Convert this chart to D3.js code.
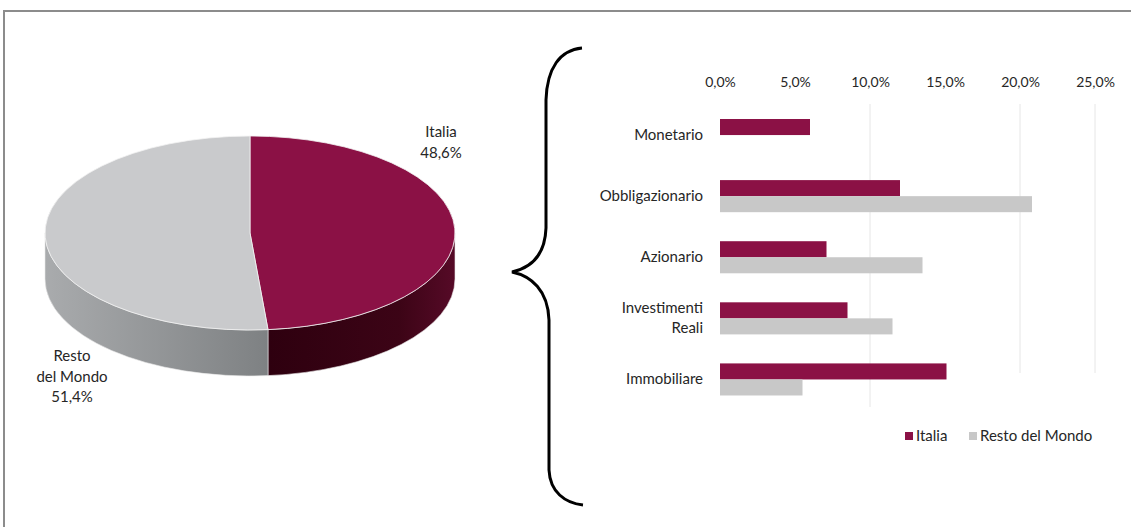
<!DOCTYPE html>
<html>
<head>
<meta charset="utf-8">
<script src="https://cdn.jsdelivr.net/npm/d3@7"></script>
<style>
  body { margin: 0; background: #fff; }
  svg { display: block; }
  text { font-family: Lato, "Open Sans", sans-serif; fill: #262626; }
</style>
</head>
<body>
<svg id="chart" width="1131" height="527"></svg>
<script>
// pie data
const pieLabels = ["Italia", "Resto del Mondo"];
const pieValues = [48.6, 51.4];

// bar data (% values)
const categories = ["Monetario", "Obbligazionario", "Azionario", "Investimenti Reali", "Immobiliare"];
const italiaValues = [6.0, 12.0, 7.1, 8.5, 15.1];
const restoValues = [0, 20.8, 13.5, 11.5, 5.5];
const seriesNames = ["Italia", "Resto del Mondo"];
const xTicks = [0, 5, 10, 15, 20, 25];
const gridTicks = [10, 20, 25];

const colors = { italia: "#8b1145", resto: "#c8c8c8" };

const svg = d3.select("#chart");
const defs = svg.append("defs");

// frame
svg.append("path")
    .attr("d", "M4,527 L4,11 L1131,11")
    .attr("fill", "none")
    .attr("stroke", "#8c8c8c")
    .attr("stroke-width", 2);

// ---------- 3D pie ----------
const cx = 250, cy = 233, rx = 205, ry = 97, depth = 46;
const pt = (a, dy = 0) => [cx + rx * Math.sin(a), cy - ry * Math.cos(a) + dy];

const sideGrad = [
    { id: "sideItalia", stops: [["0%", "#2e000f"], ["70%", "#3c0416"], ["100%", "#560a27"]], x1: 268, x2: 455 },
    { id: "sideResto", stops: [["0%", "#a9abad"], ["100%", "#7e8183"]], x1: 45, x2: 268 }
];
sideGrad.forEach(g => {
    const lg = defs.append("linearGradient").attr("id", g.id)
        .attr("gradientUnits", "userSpaceOnUse")
        .attr("x1", g.x1).attr("x2", g.x2).attr("y1", 0).attr("y2", 0);
    g.stops.forEach(s => lg.append("stop").attr("offset", s[0]).attr("stop-color", s[1]));
});

const arcs = d3.pie().sort(null).value(d => d)(pieValues);
const topFill = ["#8b1145", "#c9cacc"];
const sideFill = ["url(#sideItalia)", "url(#sideResto)"];

const pieG = svg.append("g");
arcs.forEach((d, i) => {
    const s = Math.max(d.startAngle, Math.PI / 2);
    const e = Math.min(d.endAngle, 3 * Math.PI / 2);
    if (s < e) {
        pieG.append("path")
            .attr("d", `M${pt(s)}A${rx},${ry} 0 0 1 ${pt(e)}L${pt(e, depth)}A${rx},${ry} 0 0 0 ${pt(s, depth)}Z`)
            .attr("fill", sideFill[i])
            .attr("stroke", "#e8e8e8")
            .attr("stroke-width", 0.6);
    }
});
arcs.forEach((d, i) => {
    const large = d.endAngle - d.startAngle > Math.PI ? 1 : 0;
    pieG.append("path")
        .attr("d", `M${cx},${cy}L${pt(d.startAngle)}A${rx},${ry} 0 ${large} 1 ${pt(d.endAngle)}Z`)
        .attr("fill", topFill[i])
        .attr("stroke", "#f2f2f2")
        .attr("stroke-width", 0.8);
});

// pie labels
const pieLabelPos = [[441, 132], [72, 356]];
const pieLabelLines = [
    ["Italia", pieValues[0].toFixed(1).replace(".", ",") + "%"],
    ["Resto", "del Mondo", pieValues[1].toFixed(1).replace(".", ",") + "%"]
];
pieLabelLines.forEach((lines, i) => {
    const t = svg.append("text")
        .attr("x", pieLabelPos[i][0]).attr("y", pieLabelPos[i][1])
        .attr("text-anchor", "middle")
        .style("font-size", "15px");
    lines.forEach((l, j) => t.append("tspan")
        .attr("x", pieLabelPos[i][0])
        .attr("y", pieLabelPos[i][1] + j * 20.5)
        .attr("dy", "0.35em")
        .text(l));
});

// brace
svg.append("path")
    .attr("d", "M582,48 C560,50 547,68 546,100 L546,228 C545,256 530,268 512,272 C531,276 548,290 549,320 L549,470 C550,492 565,503 583,505")
    .attr("fill", "none")
    .attr("stroke", "#000")
    .attr("stroke-width", 3);

// ---------- bar chart ----------
const x = d3.scaleLinear().domain([0, 25]).range([720, 1095]);
const y = d3.scaleBand().domain(categories).range([104.5, 410]).paddingInner(0.475).paddingOuter(0.2375);
const ySub = d3.scaleBand().domain(["italia", "resto"]).range([0, y.bandwidth()]);

defs.append("clipPath").attr("id", "plotClip")
    .append("rect").attr("x", 0).attr("y", -60).attr("width", 1116).attr("height", 120);

// gridlines
svg.append("g").selectAll("line")
    .data(gridTicks).join("line")
    .attr("x1", d => x(d)).attr("x2", d => x(d))
    .attr("y1", 104).attr("y2", 407)
    .attr("stroke", "#e6e6e6").attr("stroke-width", 1);

// top axis
const xAxis = svg.append("g")
    .attr("transform", "translate(0,82)")
    .attr("clip-path", "url(#plotClip)")
    .call(d3.axisTop(x).tickValues(xTicks).tickSize(0)
        .tickFormat(d => d.toFixed(1).replace(".", ",") + "%"));
xAxis.select(".domain").remove();
xAxis.selectAll("text")
    .attr("y", 0).attr("dy", "0.35em")
    .style("font-size", "14px")
    .style("font-family", "Lato, sans-serif")
    .attr("fill", "#262626");

// category labels
const yAxis = svg.append("g")
    .attr("transform", "translate(703,0)")
    .call(d3.axisLeft(y).tickSize(0).tickPadding(0));
yAxis.select(".domain").remove();
yAxis.selectAll("text")
    .style("font-size", "15px")
    .style("font-family", "Lato, sans-serif")
    .attr("fill", "#262626")
    .each(function(d) {
        const words = d.split(" ");
        if (words.length > 1) {
            const t = d3.select(this).text(null);
            words.forEach((w, j) => t.append("tspan")
                .attr("x", 0)
                .attr("dy", j === 0 ? "-0.35em" : "1.35em")
                .text(w));
        }
    });

// bars
const barData = categories.map((c, i) => ({ cat: c, italia: italiaValues[i], resto: restoValues[i] }));
const groups = svg.append("g").selectAll("g")
    .data(barData).join("g")
    .attr("transform", d => `translate(0,${y(d.cat)})`);
groups.selectAll("rect")
    .data(d => ["italia", "resto"].map(k => ({ key: k, value: d[k] })))
    .join("rect")
    .attr("x", x(0))
    .attr("y", d => ySub(d.key))
    .attr("height", ySub.bandwidth())
    .attr("width", d => x(d.value) - x(0))
    .attr("fill", d => colors[d.key]);

// legend area (white box over lower-right of plot)
svg.append("rect").attr("x", 1005).attr("y", 373).attr("width", 126).attr("height", 90).attr("fill", "#fff");

const legendItems = [
    { name: seriesNames[0], color: colors.italia, x: 905 },
    { name: seriesNames[1], color: colors.resto, x: 969 }
];
const legend = svg.append("g").attr("transform", "translate(0,436)");
legendItems.forEach(it => {
    legend.append("rect").attr("x", it.x).attr("y", -4).attr("width", 8).attr("height", 8).attr("fill", it.color);
    legend.append("text").attr("x", it.x + 11).attr("y", 0).attr("dy", "0.35em")
        .style("font-size", "15px").text(it.name);
});
</script>
</body>
</html>
